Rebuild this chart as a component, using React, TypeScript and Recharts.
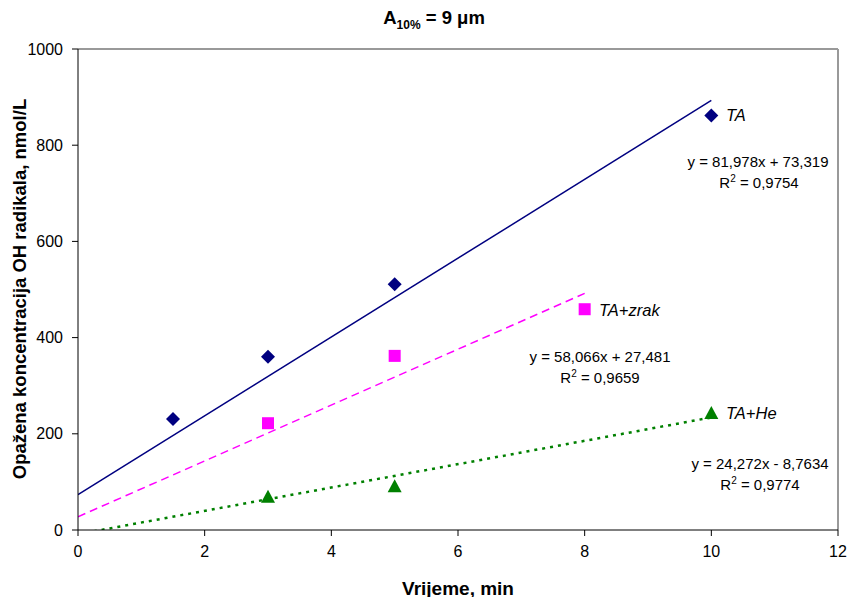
import {
  ComposedChart,
  Scatter,
  Line,
  XAxis,
  YAxis,
  ReferenceLine,
} from "recharts";

const xTicks = [0, 2, 4, 6, 8, 10, 12];
const yTicks = [0, 200, 400, 600, 800, 1000];

// measured points
const taPoints = [
  { x: 1.5, y: 231 },
  { x: 3, y: 360 },
  { x: 5, y: 511 },
  { x: 10, y: 862 },
];
const zrakPoints = [
  { x: 3, y: 222 },
  { x: 5, y: 362 },
  { x: 8, y: 459 },
];
const hePoints = [
  { x: 3, y: 69 },
  { x: 5, y: 91 },
  { x: 10, y: 243 },
];

// trend line ends, from the equations shown on the chart
const taTrend = [
  { x: 0, y: 73.319 },
  { x: 10, y: 893.099 },
];
const zrakTrend = [
  { x: 0, y: 27.481 },
  { x: 8, y: 492.009 },
];
const heTrend = [
  { x: 0, y: -8.7634 },
  { x: 10, y: 233.957 },
];

const font = "Arial, 'Liberation Sans', sans-serif";

const Diamond = (p: any) => (
  <polygon
    points={`${p.cx},${p.cy - 7} ${p.cx + 7},${p.cy} ${p.cx},${p.cy + 7} ${p.cx - 7},${p.cy}`}
    fill="#000080"
  />
);
const Square = (p: any) => (
  <rect x={p.cx - 6} y={p.cy - 6} width={12} height={12} fill="#FF00FF" />
);
const Triangle = (p: any) => (
  <polygon
    points={`${p.cx},${p.cy - 7} ${p.cx + 7},${p.cy + 6} ${p.cx - 7},${p.cy + 6}`}
    fill="#008000"
  />
);

const txt = (left: number, top: number, s: any, children: any, center = false) => (
  <div
    style={{
      position: "absolute",
      left,
      top,
      transform: center ? "translate(-50%, -50%)" : "translateY(-50%)",
      whiteSpace: "nowrap",
      lineHeight: 1,
      fontFamily: font,
      color: "#000",
      ...s,
    }}
  >
    {children}
  </div>
);

export default function App() {
  const eq = { fontSize: 15 };
  const lab = { fontSize: 16.5, fontStyle: "italic" };
  return (
    <div style={{ position: "absolute", left: 0, top: 0, width: 849, height: 597, background: "#fff" }}>
      <ComposedChart
        width={849}
        height={597}
        margin={{ top: 49, right: 11, left: 0, bottom: 0 }}
        style={{ fontFamily: font }}
      >
        <XAxis
          type="number"
          dataKey="x"
          domain={[0, 12]}
          ticks={xTicks}
          height={67}
          tickSize={6}
          tickMargin={10}
          stroke="#000"
          tick={{ fill: "#000", fontSize: 16 }}
          allowDataOverflow
        />
        <YAxis
          type="number"
          domain={[0, 1000]}
          ticks={yTicks}
          width={78}
          tickSize={6}
          tickMargin={9}
          stroke="#000"
          tick={{ fill: "#000", fontSize: 16 }}
          allowDataOverflow
        />
        <ReferenceLine y={1000} stroke="#999" strokeWidth={2} />
        <ReferenceLine x={12} stroke="#999" strokeWidth={2} />
        <Line
          data={taTrend}
          dataKey="y"
          stroke="#000080"
          strokeWidth={1.5}
          dot={false}
          activeDot={false}
          isAnimationActive={false}
        />
        <Line
          data={zrakTrend}
          dataKey="y"
          stroke="#FF00FF"
          strokeWidth={1.5}
          strokeDasharray="8 5"
          dot={false}
          activeDot={false}
          isAnimationActive={false}
        />
        <Line
          data={heTrend}
          dataKey="y"
          stroke="#008000"
          strokeWidth={2.5}
          strokeDasharray="3 5"
          dot={false}
          activeDot={false}
          isAnimationActive={false}
        />
        <Scatter data={taPoints} dataKey="y" shape={Diamond} isAnimationActive={false} />
        <Scatter data={zrakPoints} dataKey="y" shape={Square} isAnimationActive={false} />
        <Scatter data={hePoints} dataKey="y" shape={Triangle} isAnimationActive={false} />
      </ComposedChart>

      {txt(434, 20, { fontSize: 18.5, fontWeight: "bold" }, <>A<sub style={{ fontSize: 12 }}>10%</sub> = 9 μm</>, true)}
      {txt(458, 588, { fontSize: 19, fontWeight: "bold" }, "Vrijeme, min", true)}
      <div
        style={{
          position: "absolute",
          left: 20,
          top: 289,
          transform: "translate(-50%, -50%) rotate(-90deg)",
          whiteSpace: "nowrap",
          lineHeight: 1,
          fontFamily: font,
          fontSize: 18.5,
          fontWeight: "bold",
        }}
      >
        Opažena koncentracija OH radikala, nmol/L
      </div>

      {txt(726, 115, lab, "TA")}
      {txt(599, 310, lab, "TA+zrak")}
      {txt(726, 413, lab, "TA+He")}

      {txt(758, 161, eq, "y = 81,978x + 73,319", true)}
      {txt(759, 182, eq, <>R<sup style={{ fontSize: 10 }}>2</sup> = 0,9754</>, true)}
      {txt(600, 356, eq, "y = 58,066x + 27,481", true)}
      {txt(600, 377, eq, <>R<sup style={{ fontSize: 10 }}>2</sup> = 0,9659</>, true)}
      {txt(760, 463, eq, "y = 24,272x - 8,7634", true)}
      {txt(760, 484, eq, <>R<sup style={{ fontSize: 10 }}>2</sup> = 0,9774</>, true)}
    </div>
  );
}
